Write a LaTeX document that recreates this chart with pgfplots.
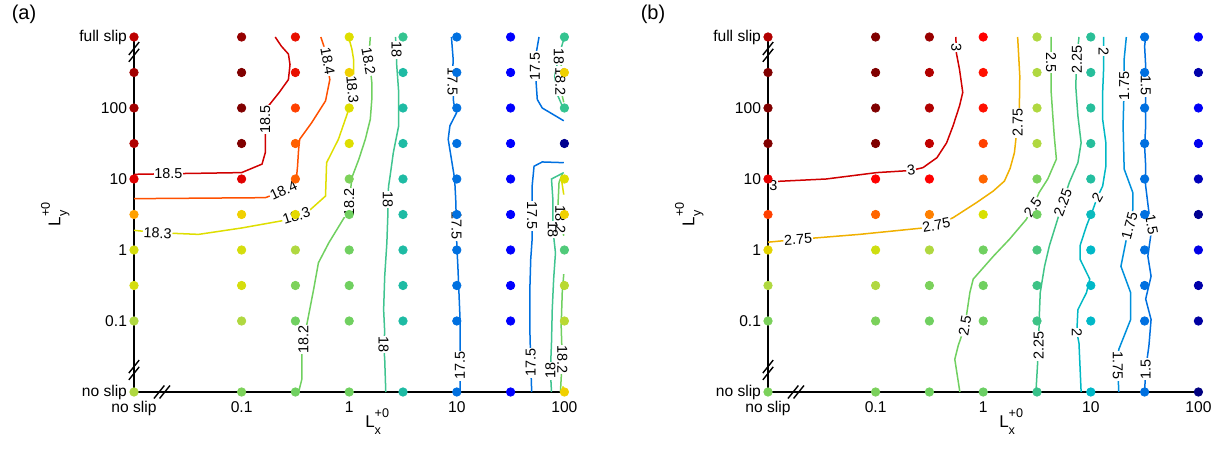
\documentclass[border=0pt]{standalone}
\usepackage{pgfplots}
\pgfplotsset{compat=1.18}
\usepackage{fontspec}
\setmainfont{Liberation Sans}

\definecolor{a185}{RGB}{208,0,0}
\definecolor{a184}{RGB}{255,80,0}
\definecolor{a183}{RGB}{222,222,0}
\definecolor{a182}{RGB}{112,208,96}
\definecolor{a180}{RGB}{64,196,144}
\definecolor{a175}{RGB}{0,112,224}
\definecolor{b300}{RGB}{208,0,0}
\definecolor{b275}{RGB}{240,176,0}
\definecolor{b250}{RGB}{112,208,96}
\definecolor{b225}{RGB}{64,196,136}
\definecolor{b200}{RGB}{0,184,196}
\definecolor{b175}{RGB}{0,144,220}
\definecolor{b150}{RGB}{0,112,224}

\newcommand\Lsym[1]{L\makebox[0pt][l]{\raisebox{-0.38em}{\fontsize{6.3}{6.3}\selectfont #1}}\raisebox{0.62em}{\fontsize{6.3}{6.3}\selectfont +0}}

\tikzset{
  clabbg/.style={fill=white,inner sep=0.4pt,font=\fontsize{7.2}{8}\selectfont},
  clabfg/.style={inner sep=0.4pt,font=\fontsize{7.2}{8}\selectfont},
  brk/.style={line width=0.7pt,black},
}
\newcommand\clab[5]{\node[#1,rotate=#4] at (axis cs:#2,#3) {#5};}
\newcommand\ybrk[2]{%
  \draw[brk] (axis cs:#1,#2) ++(-2.6pt,-1.55pt) -- ++(5.2pt,6.5pt);
  \draw[brk] (axis cs:#1,#2) ++(-2.6pt,-4.95pt) -- ++(5.2pt,6.5pt);}
\newcommand\xbrk[2]{%
  \draw[brk] (axis cs:#1,#2) ++(-4.0pt,-3.25pt) -- ++(5.2pt,6.5pt);
  \draw[brk] (axis cs:#1,#2) ++(-1.2pt,-3.25pt) -- ++(5.2pt,6.5pt);}

\pgfplotsset{
  panel/.style={
    x=53.8pt, y=35.5pt,
    xmin=-2, xmax=2, ymin=-2, ymax=3,
    axis x line*=bottom, axis y line*=left,
    axis line style={line width=0.9pt, black},
    clip=false,
    xtick={-2,-1,0,1,2}, xticklabels={no slip,0.1,1,10,100},
    ytick={-2,-1,0,1,2,3}, yticklabels={no slip,0.1,1,10,100,full slip},
    major tick length=0pt, tick style={draw=none},
    tick label style={font=\fontsize{7.8}{9}\selectfont},
    xticklabel style={yshift=-1.2pt},
    xlabel={\Lsym{x}}, ylabel={\Lsym{y}},
    label style={font=\fontsize{8.5}{10}\selectfont, inner sep=0pt},
    xlabel style={at={(axis description cs:0.565,0)}, anchor=north, yshift=-8pt},
    ylabel style={at={(axis description cs:-0.149,0.5)}, anchor=south},
    anchor=south west,
  },
  dots/.style={scatter, only marks, mark=*, mark size=2.1pt, scatter src=explicit,
    scatter/use mapped color={draw=mapped color, fill=mapped color}},
  cl/.style={no markers, line width=0.75pt},
}

% #1 = style, #2 = wrapper (\phantom for the white gaps, \relax for the text)
\newcommand\labelsA[2]{%
  \clab{#1}{-1.68}{1.07}{0}{#2{18.5}}
  \clab{#1}{-0.78}{1.84}{90}{#2{18.5}}
  \clab{#1}{-0.61}{0.84}{25}{#2{18.4}}
  \clab{#1}{-0.20}{2.66}{-80}{#2{18.4}}
  \clab{#1}{-1.78}{0.24}{-3}{#2{18.3}}
  \clab{#1}{-0.49}{0.48}{18}{#2{18.3}}
  \clab{#1}{0.03}{2.26}{-85}{#2{18.3}}
  \clab{#1}{-0.425}{-1.26}{90}{#2{18.2}}
  \clab{#1}{0.0}{0.67}{90}{#2{18.2}}
  \clab{#1}{0.18}{2.66}{-80}{#2{18.2}}
  \clab{#1}{0.44}{2.82}{-90}{#2{18}}
  \clab{#1}{0.36}{0.71}{-90}{#2{18}}
  \clab{#1}{0.32}{-1.33}{-90}{#2{18}}
  \clab{#1}{0.96}{2.38}{-90}{#2{17.5}}
  \clab{#1}{0.997}{0.34}{-90}{#2{17.5}}
  \clab{#1}{1.03}{-1.63}{90}{#2{17.5}}
  \clab{#1}{1.727}{2.59}{90}{#2{17.5}}
  \clab{#1}{1.948}{2.73}{-90}{#2{18}}
  \clab{#1}{1.963}{2.38}{-90}{#2{18.2}}
  \clab{#1}{1.70}{0.48}{-90}{#2{17.5}}
  \clab{#1}{1.687}{-1.59}{90}{#2{17.5}}
  \clab{#1}{1.893}{0.29}{-90}{#2{18}}
  \clab{#1}{1.87}{-1.70}{90}{#2{18}}
  \clab{#1}{1.963}{0.43}{-90}{#2{18.2}}
  \clab{#1}{1.98}{-1.54}{-90}{#2{18.2}}
}
\newcommand\labelsB[2]{%
  \clab{#1}{-1.95}{0.91}{0}{#2{3}}
  \clab{#1}{-0.67}{1.12}{8}{#2{3}}
  \clab{#1}{-0.25}{2.85}{-90}{#2{3}}
  \clab{#1}{-1.72}{0.15}{3}{#2{2.75}}
  \clab{#1}{-0.435}{0.35}{10}{#2{2.75}}
  \clab{#1}{0.32}{1.79}{90}{#2{2.75}}
  \clab{#1}{-0.17}{-1.07}{80}{#2{2.5}}
  \clab{#1}{0.46}{0.60}{55}{#2{2.5}}
  \clab{#1}{0.63}{2.64}{-90}{#2{2.5}}
  \clab{#1}{0.515}{-1.35}{90}{#2{2.25}}
  \clab{#1}{0.74}{0.67}{70}{#2{2.25}}
  \clab{#1}{0.87}{2.69}{90}{#2{2.25}}
  \clab{#1}{0.87}{-1.16}{-90}{#2{2}}
  \clab{#1}{1.06}{0.74}{60}{#2{2}}
  \clab{#1}{1.12}{2.80}{-90}{#2{2}}
  \clab{#1}{1.25}{-1.63}{-90}{#2{1.75}}
  \clab{#1}{1.36}{0.34}{75}{#2{1.75}}
  \clab{#1}{1.31}{2.31}{90}{#2{1.75}}
  \clab{#1}{1.51}{-1.68}{90}{#2{1.5}}
  \clab{#1}{1.565}{0.36}{-80}{#2{1.5}}
  \clab{#1}{1.51}{2.31}{-90}{#2{1.5}}
}

\begin{document}
\begin{tikzpicture}
\useasboundingbox (0,0) rectangle (614.5pt,224.5pt);
\node[font=\fontsize{10}{12}\selectfont] at (12pt,217.5pt) {(a)};
\node[font=\fontsize{10}{12}\selectfont] at (326.5pt,217.5pt) {(b)};

% ---------------- panel (a)
\begin{axis}[panel, at={(67pt,28.5pt)},
  colormap={cmA}{rgb255(17.2cm)=(0,0,144) rgb255(17.35cm)=(0,0,255) rgb255(17.5cm)=(0,112,224)
    rgb255(18.0cm)=(32,192,160) rgb255(18.2cm)=(112,208,96) rgb255(18.25cm)=(176,216,64)
    rgb255(18.3cm)=(222,222,0) rgb255(18.33cm)=(240,208,0) rgb255(18.36cm)=(255,160,0)
    rgb255(18.42cm)=(255,64,0) rgb255(18.5cm)=(224,0,0) rgb255(18.58cm)=(176,0,0)
    rgb255(18.65cm)=(128,0,0)},
  point meta min=17.2, point meta max=18.65]
\addplot[cl,a185] coordinates {(-2,1.066) (-1,1.09) (-0.81,1.21) (-0.78,1.37) (-0.78,1.65) (-0.78,1.84) (-0.75,2.03) (-0.65,2.22) (-0.565,2.40) (-0.55,2.61) (-0.565,2.76) (-0.63,2.87) (-0.688,3.0)};
\addplot[cl,a184] coordinates {(-2,0.723) (-0.78,0.737) (-0.61,0.83) (-0.49,1.02) (-0.48,1.18) (-0.47,1.42) (-0.46,1.56) (-0.35,1.79) (-0.22,2.10) (-0.18,2.40) (-0.21,2.66) (-0.22,2.80) (-0.264,3.0)};
\addplot[cl,a183] coordinates {(-2,0.277) (-1.78,0.244) (-1.40,0.22) (-1,0.31) (-0.63,0.41) (-0.49,0.48) (-0.36,0.57) (-0.22,0.76) (-0.21,1.23) (-0.10,1.56) (-0.02,1.91) (0.01,2.05) (0.025,2.26) (0.04,2.45) (0.04,2.69) (0.025,2.83) (-0.006,3.0)};
\addplot[cl,a182] coordinates {(-0.47,-2.0) (-0.44,-1.82) (-0.44,-1.45) (-0.425,-1.26) (-0.39,-1.02) (-0.33,-0.55) (-0.286,-0.18) (-0.19,0.10) (-0.037,0.48) (0,0.67) (0.025,1.02) (0.09,1.28) (0.15,1.56) (0.196,1.84) (0.21,2.12) (0.21,2.36) (0.19,2.66) (0.19,2.87) (0.196,3.0)};
\addplot[cl,a180] coordinates {(0.43,3.0) (0.44,2.80) (0.44,2.64) (0.46,2.22) (0.46,1.75) (0.41,1.37) (0.38,1.04) (0.366,0.90) (0.36,0.71) (0.36,0.53) (0.35,0.10) (0.33,-0.37) (0.32,-0.84) (0.33,-1.16) (0.32,-1.33) (0.33,-1.54) (0.34,-2.0)};
\addplot[cl,a175] coordinates {(0.95,3.0) (0.966,2.69) (0.96,2.38) (0.97,2.08) (0.997,1.93) (0.936,1.75) (0.92,1.56) (0.95,1.28) (0.98,1.0) (0.99,0.71) (0.997,0.34) (1.0,0.06) (1.01,-0.23) (1.02,-0.60) (1.03,-0.97) (1.03,-1.45) (1.03,-1.63) (1.03,-2.0)};
\addplot[cl,a175] coordinates {(1.764,3.0) (1.733,2.73) (1.727,2.59) (1.733,2.45) (1.748,2.12) (1.794,2.0) (1.994,1.82)};
\addplot[cl,a180] coordinates {(2.0,3.0) (1.948,2.73) (1.91,2.45) (1.94,2.17) (1.994,1.98)};
\addplot[cl,a182] coordinates {(1.994,2.80) (1.965,2.55) (1.963,2.38) (1.98,2.17) (1.994,2.08)};
\addplot[cl,a175] coordinates {(1.994,1.23) (1.794,1.24) (1.718,1.18) (1.70,0.90) (1.70,0.48) (1.70,0.15) (1.687,-0.13) (1.678,-0.60) (1.678,-1.07) (1.687,-1.59) (1.696,-2.0)};
\addplot[cl,a180] coordinates {(1.994,1.09) (1.88,1.0) (1.893,0.71) (1.893,0.29) (1.917,-0.04) (1.90,-0.41) (1.887,-0.84) (1.88,-1.31) (1.87,-1.70) (1.88,-2.0)};
\addplot[cl,a182] coordinates {(1.98,1.07) (1.95,0.95) (1.94,0.62) (1.963,0.43) (1.994,0.20)};
\addplot[cl,a182] coordinates {(1.994,-0.34) (1.98,-0.60) (1.97,-1.07) (1.98,-1.54) (1.963,-2.0)};
\addplot[cl,a183] coordinates {(1.97,1.02) (1.994,0.78)};
\addplot[cl,a183] coordinates {(1.985,-1.92) (1.994,-2.0)};
\labelsA{clabbg}{\phantom}
\addplot[dots] table[x=x,y=y,meta=v] {
x y v
-2 3 18.56
-1 3 18.62
-0.5 3 18.48
0 3 18.30
0.5 3 18.05
1 3 17.50
1.5 3 17.35
2 3 18.05
-2 2.5 18.60
-1 2.5 18.65
-0.5 2.5 18.48
0 2.5 18.33
0.5 2.5 17.97
1 2.5 17.50
1.5 2.5 17.35
2 2.5 18.33
-2 2 18.60
-1 2 18.65
-0.5 2 18.42
0 2 18.30
0.5 2 17.97
1 2 17.50
1.5 2 17.35
2 2 18.05
-2 1.5 18.58
-1 1.5 18.65
-0.5 1.5 18.40
0 1.5 18.30
0.5 1.5 17.97
1 1.5 17.50
1.5 1.5 17.35
2 1.5 17.20
-2 1 18.50
-1 1 18.50
-0.5 1 18.40
0 1 18.21
0.5 1 17.97
1 1 17.50
1.5 1 17.35
2 1 18.30
-2 0.5 18.36
-1 0.5 18.33
-0.5 0.5 18.31
0 0.5 18.20
0.5 0.5 17.97
1 0.5 17.50
1.5 0.5 17.35
2 0.5 18.33
-2 0 18.29
-1 0 18.29
-0.5 0 18.25
0 0 18.20
0.5 0 17.97
1 0 17.50
1.5 0 17.35
2 0 18.12
-2 -0.5 18.29
-1 -0.5 18.29
-0.5 -0.5 18.21
0 -0.5 18.20
0.5 -0.5 17.97
1 -0.5 17.50
1.5 -0.5 17.35
2 -0.5 18.26
-2 -1 18.25
-1 -1 18.25
-0.5 -1 18.20
0 -1 18.20
0.5 -1 17.97
1 -1 17.50
1.5 -1 17.35
2 -1 18.26
-2 -2 18.25
-1 -2 18.21
-0.5 -2 18.20
0 -2 18.20
0.5 -2 17.97
1 -2 17.50
1.5 -2 17.35
2 -2 18.33
};
\labelsA{clabfg}{\relax}
\ybrk{-2}{2.79}
\ybrk{-2}{-1.69}
\xbrk{-1.74}{-2}
\end{axis}

% ---------------- panel (b)
\begin{axis}[panel, at={(384pt,28.5pt)},
  colormap={cmB}{rgb255(1.2cm)=(0,0,128) rgb255(1.35cm)=(0,0,255) rgb255(1.5cm)=(0,112,224)
    rgb255(1.75cm)=(0,144,224) rgb255(2.0cm)=(0,184,200) rgb255(2.25cm)=(48,192,144)
    rgb255(2.5cm)=(112,208,96) rgb255(2.62cm)=(176,216,64) rgb255(2.7cm)=(216,224,0)
    rgb255(2.78cm)=(240,200,0) rgb255(2.85cm)=(255,128,0) rgb255(2.92cm)=(255,64,0)
    rgb255(3.0cm)=(255,0,0) rgb255(3.12cm)=(192,0,0) rgb255(3.25cm)=(128,0,0)},
  point meta min=1.2, point meta max=3.25]
\addplot[cl,b300] coordinates {(-2,0.96) (-1.46,1.0) (-0.99,1.09) (-0.67,1.12) (-0.56,1.16) (-0.43,1.30) (-0.34,1.51) (-0.28,1.75) (-0.22,2.03) (-0.19,2.22) (-0.22,2.54) (-0.25,2.78) (-0.25,2.85) (-0.255,3.0)};
\addplot[cl,b275] coordinates {(-2,0.11) (-1.72,0.15) (-1.15,0.22) (-0.56,0.31) (-0.435,0.35) (-0.28,0.455) (-0.06,0.67) (0.093,0.83) (0.197,0.97) (0.25,1.15) (0.29,1.37) (0.32,1.79) (0.336,2.0) (0.34,2.45) (0.32,3.0)};
\addplot[cl,b250] coordinates {(-0.217,-2.0) (-0.264,-1.54) (-0.233,-1.35) (-0.17,-1.07) (-0.124,-0.60) (-0.093,-0.41) (0.096,-0.085) (0.243,0.15) (0.40,0.43) (0.46,0.60) (0.52,0.81) (0.60,1.0) (0.68,1.28) (0.66,1.61) (0.645,1.93) (0.63,2.26) (0.63,2.64) (0.63,3.0)};
\addplot[cl,b225] coordinates {(0.49,-2.0) (0.515,-1.35) (0.52,-0.98) (0.53,-0.60) (0.57,-0.23) (0.615,0.06) (0.74,0.67) (0.80,0.95) (0.88,1.23) (0.91,1.51) (0.88,1.89) (0.86,2.31) (0.87,2.69) (0.89,3.0)};
\addplot[cl,b200] coordinates {(0.91,-2.0) (0.89,-1.31) (0.87,-1.16) (0.88,-0.84) (0.96,-0.60) (0.99,-0.41) (0.90,-0.13) (0.90,0.06) (0.96,0.34) (1.02,0.57) (1.06,0.74) (1.11,0.90) (1.14,1.18) (1.14,1.51) (1.11,1.84) (1.11,2.22) (1.12,2.59) (1.12,2.80) (1.12,3.0)};
\addplot[cl,b175] coordinates {(1.26,-2.0) (1.25,-1.63) (1.26,-1.40) (1.37,-0.98) (1.37,-0.60) (1.28,-0.23) (1.33,0.15) (1.36,0.34) (1.39,0.57) (1.39,0.81) (1.31,1.14) (1.30,1.75) (1.31,2.31) (1.31,2.69) (1.33,3.0)};
\addplot[cl,b150] coordinates {(1.50,-2.0) (1.51,-1.68) (1.54,-1.35) (1.56,-0.98) (1.51,-0.69) (1.56,-0.37) (1.53,-0.085) (1.57,0.34) (1.54,0.53) (1.51,0.90) (1.51,1.18) (1.50,1.46) (1.51,1.75) (1.51,2.31) (1.51,2.59) (1.50,2.87) (1.51,3.0)};
\labelsB{clabbg}{\phantom}
\addplot[dots] table[x=x,y=y,meta=v] {
x y v
-2 3 3.15
-1 3 3.25
-0.5 3 3.20
0 3 3.00
0.5 3 2.62
1 3 2.22
1.5 3 1.50
2 3 1.35
-2 2.5 3.25
-1 2.5 3.25
-0.5 2.5 3.15
0 2.5 2.98
0.5 2.5 2.62
1 2.5 2.20
1.5 2.5 1.50
2 2.5 1.25
-2 2 3.25
-1 2 3.25
-0.5 2 3.15
0 2 2.98
0.5 2 2.62
1 2 2.20
1.5 2 1.50
2 2 1.34
-2 1.5 3.25
-1 1.5 3.25
-0.5 1.5 3.12
0 1.5 2.92
0.5 1.5 2.62
1 1.5 2.20
1.5 1.5 1.50
2 1.5 1.33
-2 1 3.05
-1 1 3.00
-0.5 1 3.00
0 1 2.88
0.5 1 2.52
1 1 2.18
1.5 1 1.50
2 1 1.27
-2 0.5 2.92
-1 0.5 2.88
-0.5 0.5 2.85
0 0.5 2.70
0.5 0.5 2.50
1 0.5 2.05
1.5 0.5 1.50
2 0.5 1.22
-2 0 2.74
-1 0 2.68
-0.5 0 2.62
0 0 2.50
0.5 0 2.35
1 0 2.00
1.5 0 1.50
2 0 1.32
-2 -0.5 2.62
-1 -0.5 2.62
-0.5 -0.5 2.52
0 -0.5 2.50
0.5 -0.5 2.30
1 -0.5 2.00
1.5 -0.5 1.50
2 -0.5 1.25
-2 -1 2.52
-1 -1 2.52
-0.5 -1 2.50
0 -1 2.50
0.5 -1 2.30
1 -1 2.00
1.5 -1 1.50
2 -1 1.24
-2 -2 2.52
-1 -2 2.52
-0.5 -2 2.50
0 -2 2.48
0.5 -2 2.28
1 -2 2.00
1.5 -2 1.50
2 -2 1.20
};
\labelsB{clabfg}{\relax}
\ybrk{-2}{2.79}
\ybrk{-2}{-1.69}
\xbrk{-1.74}{-2}
\end{axis}
\end{tikzpicture}
\end{document}
